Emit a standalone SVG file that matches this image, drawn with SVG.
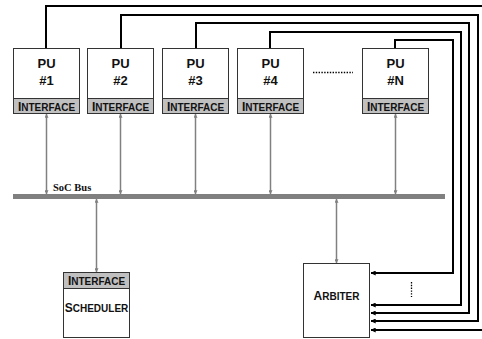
<svg xmlns="http://www.w3.org/2000/svg" width="482" height="339" viewBox="0 0 482 339">
<defs>
<marker id="ga" viewBox="0 0 8 8" refX="7.5" refY="4" markerWidth="4" markerHeight="4" orient="auto-start-reverse" markerUnits="userSpaceOnUse"><path d="M0,0 L8,4 L0,8 z" fill="#808080"/></marker>
<marker id="ba" viewBox="0 0 8 8" refX="7.5" refY="4" markerWidth="5" markerHeight="5" orient="auto" markerUnits="userSpaceOnUse"><path d="M0,0 L8,4 L0,8 z" fill="#000"/></marker>
</defs>
<style>
.box{fill:#fff;stroke:#333;stroke-width:1}
.band{fill:#c0c0c0;stroke:#333;stroke-width:1}
.t{font-family:"Liberation Sans",Arial,sans-serif;font-weight:bold;fill:#111;text-anchor:middle}
.pu{font-size:13px}
.big{font-size:12px}
.sm{font-size:10px}
.g{stroke:#808080;stroke-width:1.5;fill:none}
.k{stroke:#000;stroke-width:2;fill:none}
</style>
<g id="pu1"><rect class="box" x="13.5" y="48.5" width="66" height="65"/><rect class="band" x="13.5" y="98.5" width="66" height="15"/>
<text class="t pu" x="46.5" y="68">PU</text><text class="t pu" x="46.5" y="85">#1</text>
<text class="t" x="46.5" y="111"><tspan class="big">I</tspan><tspan class="sm">NTERFACE</tspan></text></g>
<g id="pu2"><rect class="box" x="87.5" y="48.5" width="66" height="65"/><rect class="band" x="87.5" y="98.5" width="66" height="15"/>
<text class="t pu" x="120.5" y="68">PU</text><text class="t pu" x="120.5" y="85">#2</text>
<text class="t" x="120.5" y="111"><tspan class="big">I</tspan><tspan class="sm">NTERFACE</tspan></text></g>
<g id="pu3"><rect class="box" x="162.5" y="48.5" width="66" height="65"/><rect class="band" x="162.5" y="98.5" width="66" height="15"/>
<text class="t pu" x="195.5" y="68">PU</text><text class="t pu" x="195.5" y="85">#3</text>
<text class="t" x="195.5" y="111"><tspan class="big">I</tspan><tspan class="sm">NTERFACE</tspan></text></g>
<g id="pu4"><rect class="box" x="237.5" y="48.5" width="66" height="65"/><rect class="band" x="237.5" y="98.5" width="66" height="15"/>
<text class="t pu" x="270.5" y="68">PU</text><text class="t pu" x="270.5" y="85">#4</text>
<text class="t" x="270.5" y="111"><tspan class="big">I</tspan><tspan class="sm">NTERFACE</tspan></text></g>
<g id="pun"><rect class="box" x="362.5" y="48.5" width="66" height="65"/><rect class="band" x="362.5" y="98.5" width="66" height="15"/>
<text class="t pu" x="395.5" y="68">PU</text><text class="t pu" x="395.5" y="85">#N</text>
<text class="t" x="395.5" y="111"><tspan class="big">I</tspan><tspan class="sm">NTERFACE</tspan></text></g>
<g id="bus"><rect x="13" y="194" width="432" height="5" fill="#808080"/>
<text x="53" y="191" font-family="'Liberation Serif','Times New Roman',serif" font-weight="bold" font-size="10.5" fill="#111">SoC Bus</text></g>
<g id="scheduler"><rect class="box" x="63.5" y="272.5" width="66" height="65"/><rect class="band" x="63.5" y="272.5" width="66" height="16"/>
<text class="t" x="96.5" y="285"><tspan class="big">I</tspan><tspan class="sm">NTERFACE</tspan></text>
<text class="t" x="96.5" y="312"><tspan class="big">S</tspan><tspan class="sm">CHEDULER</tspan></text></g>
<g id="arbiter"><rect class="box" x="303.5" y="263.5" width="66" height="74"/>
<text class="t" x="336.5" y="300"><tspan class="big">A</tspan><tspan class="sm">RBITER</tspan></text></g>
<g id="connectors">
<line class="g" x1="46.5" y1="114" x2="46.5" y2="194" marker-start="url(#ga)" marker-end="url(#ga)"/>
<line class="g" x1="120.5" y1="114" x2="120.5" y2="194" marker-start="url(#ga)" marker-end="url(#ga)"/>
<line class="g" x1="195.5" y1="114" x2="195.5" y2="194" marker-start="url(#ga)" marker-end="url(#ga)"/>
<line class="g" x1="270.5" y1="114" x2="270.5" y2="194" marker-start="url(#ga)" marker-end="url(#ga)"/>
<line class="g" x1="395.5" y1="114" x2="395.5" y2="194" marker-start="url(#ga)" marker-end="url(#ga)"/>
<line class="g" x1="96.5" y1="199" x2="96.5" y2="272" marker-start="url(#ga)" marker-end="url(#ga)"/>
<line class="g" x1="336.5" y1="199" x2="336.5" y2="263" marker-start="url(#ga)" marker-end="url(#ga)"/>
<path class="k" d="M46,48 V6 H490 V330 H371" marker-end="url(#ba)"/>
<path class="k" d="M121,48 V15 H478 V321 H371" marker-end="url(#ba)"/>
<path class="k" d="M196,48 V23 H469 V313 H371" marker-end="url(#ba)"/>
<path class="k" d="M270,48 V32 H461 V305 H371" marker-end="url(#ba)"/>
<path class="k" d="M395,48 V40 H453 V273 H371" marker-end="url(#ba)"/>
<line x1="313" y1="72.5" x2="353" y2="72.5" stroke="#000" stroke-width="1.3" stroke-dasharray="1.4,1.4"/>
<line x1="411.5" y1="282" x2="411.5" y2="297" stroke="#000" stroke-width="1.3" stroke-dasharray="1.4,1.4"/>
</g>
</svg>
